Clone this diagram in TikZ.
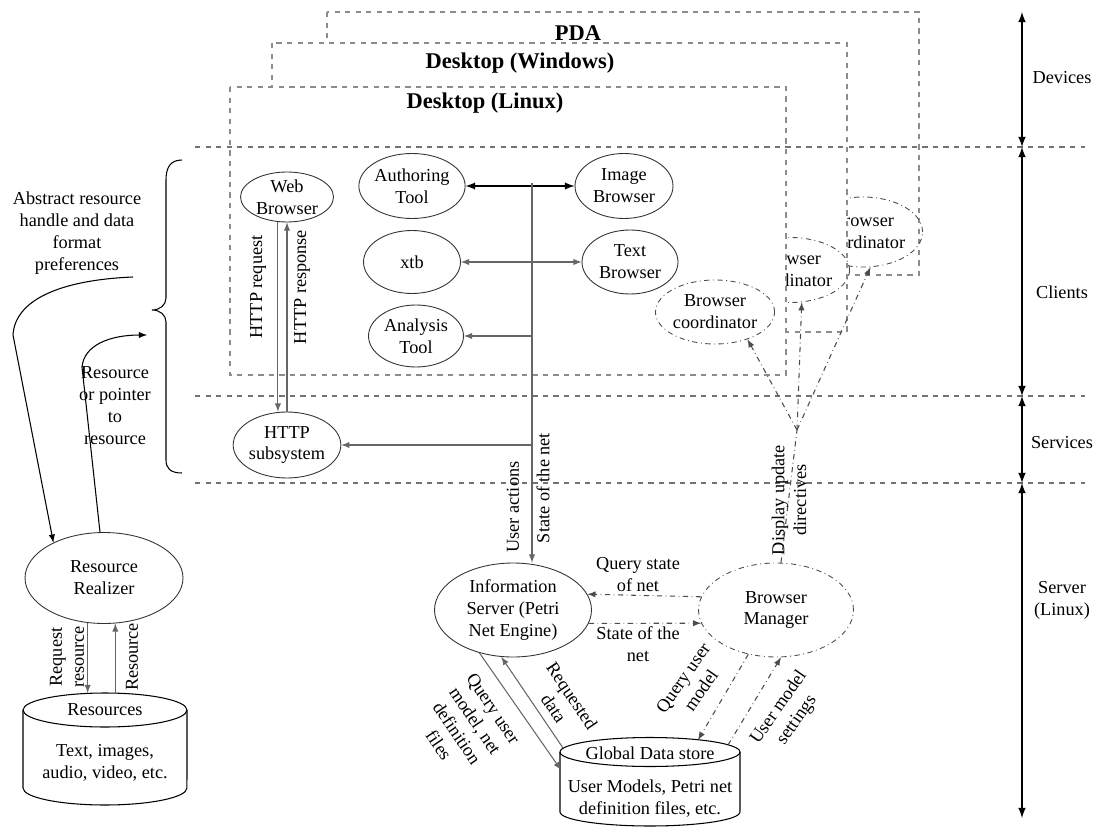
\documentclass[tikz,border=0pt]{standalone}
\usepackage{fontspec}
\setmainfont{Liberation Serif}
\usetikzlibrary{shapes.geometric}

\begin{document}
\begin{tikzpicture}[x=0.02cm,y=-0.02cm,font=\fontsize{10.4}{12.5}\selectfont,
  box/.style={draw=black!45,dashed,line width=1pt,fill=white},
  layer/.style={draw=black!55,dashed,line width=0.6pt},
  heading/.style={font=\fontsize{12.8}{14}\selectfont\bfseries},
  proc/.style={ellipse,draw=black!80,line width=0.5pt,inner sep=0pt,align=center},
  bcoord/.style={proc,dash dot,draw=black!70},
  conn/.style={draw=black!60,line width=0.6pt},
  dd/.style={draw=black!70,dash dot,line width=0.6pt},
  lbl/.style={align=center,inner sep=0pt},
  tier/.style={latex-latex,line width=1pt}]
\useasboundingbox (0,0) rectangle (1099,828);
\draw[box] (327,12) rectangle (919,275);
\node[heading] (pda) at (578,33) {PDA};
\node[bcoord,minimum width=1.9cm,minimum height=1.4cm] (pc) at (863,232) {Browser\\coordinator};
\draw[box] (272,43) rectangle (847,332);
\node[heading] (win) at (520,63) {Desktop (Windows)};
\node[bcoord,minimum width=1.9cm,minimum height=1.3cm] (wc) at (790,270) {Browser\\coordinator};
\draw[box] (230,87) rectangle (786,375);
\node[heading] (lin) at (485,103) {Desktop (Linux)};
\draw[layer] (195,147) -- (1085,147);
\draw[layer] (195,396) -- (1085,396);
\draw[layer] (195,483) -- (1085,483);
\node[proc,minimum width=1.86cm,minimum height=1cm] (wb) at (287,197) {Web\\Browser};
\node[proc,minimum width=1.94cm,minimum height=1.3cm] (auth) at (412,186) {Authoring\\Tool};
\node[proc,minimum width=1.96cm,minimum height=1.3cm] (img) at (624,186) {Image\\Browser};
\node[proc,minimum width=1.94cm,minimum height=1.26cm] (xtb) at (412,262) {xtb};
\node[proc,minimum width=1.92cm,minimum height=1.28cm] (txt) at (630,262) {Text\\Browser};
\node[proc,minimum width=1.9cm,minimum height=1.24cm] (ana) at (416,336) {Analysis\\Tool};
\node[bcoord,minimum width=1.9cm,minimum height=1.28cm] (lc) at (715,312) {Browser\\coordinator};
\node[proc,minimum width=1.94cm,minimum height=1.32cm] (hs) at (287,445) {HTTP\\subsystem};
\node[proc,minimum width=3.16cm,minimum height=1.82cm] (rr) at (104,578) {Resource\\Realizer};
\node[proc,minimum width=3.14cm,minimum height=1.88cm] (info) at (513,610) {Information\\Server (Petri\\Net Engine)};
\node[bcoord,minimum width=3.1cm,minimum height=1.88cm] (bm) at (776,610) {Browser\\Manager};
\draw[line width=0.6pt] (23,710) -- (23,788) arc[start angle=180,end angle=360,x radius=1.64cm,y radius=0.34cm] -- (187,710);
\draw[line width=0.6pt] (105,710) ellipse [x radius=1.64cm,y radius=0.34cm];
\node[lbl] (resname) at (105,710) {Resources};
\node[lbl] (res) at (105,763) {Text, images,\\audio, video, etc.};
\draw[line width=0.6pt] (560,752) -- (560,812) arc[start angle=180,end angle=360,x radius=1.8cm,y radius=0.28cm] -- (740,752);
\draw[line width=0.6pt] (650,752) ellipse [x radius=1.8cm,y radius=0.29cm];
\node[lbl] (gdsname) at (650,753) {Global Data store};
\node[lbl] (gds) at (650,799) {User Models, Petri net\\definition files, etc.};
\coordinate (reslid) at (105,693);
\coordinate (gdsl) at (561,770);
\coordinate (gdslid) at (563,748);
\coordinate (gdstop) at (698,740);
\coordinate (gdstr) at (728,745);
\coordinate (bus) at (532,183);
\draw[latex-latex,line width=0.9pt] (auth.east) -- (img.west);
\draw[conn,latex-latex] (xtb.east) -- (txt.west);
\draw[conn,-latex] (bus) -- (bus |- info.north);
\draw[conn,-latex] (bus |- ana.east) -- (ana.east);
\draw[conn,-latex] (bus |- hs.east) -- (hs.east);
\draw[conn,-latex] (wb.250) -- (wb.250 |- hs.north);
\draw[conn,-latex] (hs.north) -- (wb.south);
\node[lbl,rotate=90] (hreq) at (258,287) {HTTP request};
\node[lbl,rotate=90] (hresp) at (302,287) {HTTP response};
\node[lbl,rotate=90] (uact) at (513,507) {User actions};
\node[lbl,rotate=90] (snet) at (543,488) {State of the net};
\draw[dd,-latex] (bm.170) -- (info.12);
\draw[dd,-latex] (info.-10) -- (bm.190);
\node[lbl] (qstate) at (638,575) {Query state\\of net};
\node[lbl] (sstate) at (638,644) {State of the\\net};
\coordinate (dud) at (797,430);
\draw[dd] (bm.84) -- (dud);
\draw[dd,-latex] (dud) -- (lc.320);
\draw[dd,-latex] (dud) -- (wc.290);
\draw[dd,-latex] (dud) -- (pc.282);
\node[lbl,rotate=90] (disp) at (789,500) {Display update\\directives};
\draw[conn,-latex] (info.232) -- (gdsl);
\draw[conn,-latex] (gdslid) -- (info.256);
\draw[dd,-latex] (bm.238) -- (gdstop);
\draw[dd,-latex] (gdstr) -- (bm.276);
\node[lbl,rotate=-56] (qdef) at (466,727) {Query user\\model, net\\definition\\files};
\node[lbl,rotate=-56] (reqd) at (563,702) {Requested\\data};
\node[lbl,rotate=55] (qum) at (692,684) {Query user\\model};
\node[lbl,rotate=55] (ums) at (788,714) {User model\\settings};
\draw[conn,-latex] (rr.250) -- (rr.250 |- reslid);
\draw[conn,-latex] (rr.284 |- reslid) -- (rr.284);
\node[lbl,rotate=90] (rreq) at (67,657) {Request\\resource};
\node[lbl,rotate=90] (rres) at (132,657) {Resource};
\draw[line width=0.6pt] (182,160) .. controls (170,160) and (166,168) .. (166,180) -- (166,298) .. controls (166,305) and (160,310) .. (152,310) .. controls (160,310) and (166,315) .. (166,322) -- (166,460) .. controls (166,468) and (170,473) .. (182,473);
\node[lbl] (abs) at (77,233) {Abstract resource\\handle and data\\format\\preferences};
\coordinate (absend) at (133,277);
\draw[line width=0.6pt,-latex] (absend) .. controls (60,280) and (15,300) .. (13,335) -- (rr.145);
\coordinate (ptr) at (147,335);
\draw[line width=0.6pt,-latex] (rr.95) -- (82,367) .. controls (84,345) and (110,335) .. (ptr);
\node[lbl] (rptr) at (115,406) {Resource\\or pointer\\to\\resource};
\coordinate (t0) at (1022,12);
\coordinate (t1) at (1022,147);
\coordinate (t2) at (1022,396);
\coordinate (t3) at (1022,483);
\coordinate (t4) at (1022,818);
\draw[tier] (t0) -- (t1);
\draw[tier] (t1) -- (t2);
\draw[tier] (t2) -- (t3);
\draw[tier] (t3) -- (t4);
\node[lbl] (ldev) at (1062,78) {Devices};
\node[lbl] (lcli) at (1062,292) {Clients};
\node[lbl] (lsrv) at (1062,443) {Services};
\node[lbl] (lser) at (1062,600) {Server\\(Linux)};
\end{tikzpicture}
\end{document}
